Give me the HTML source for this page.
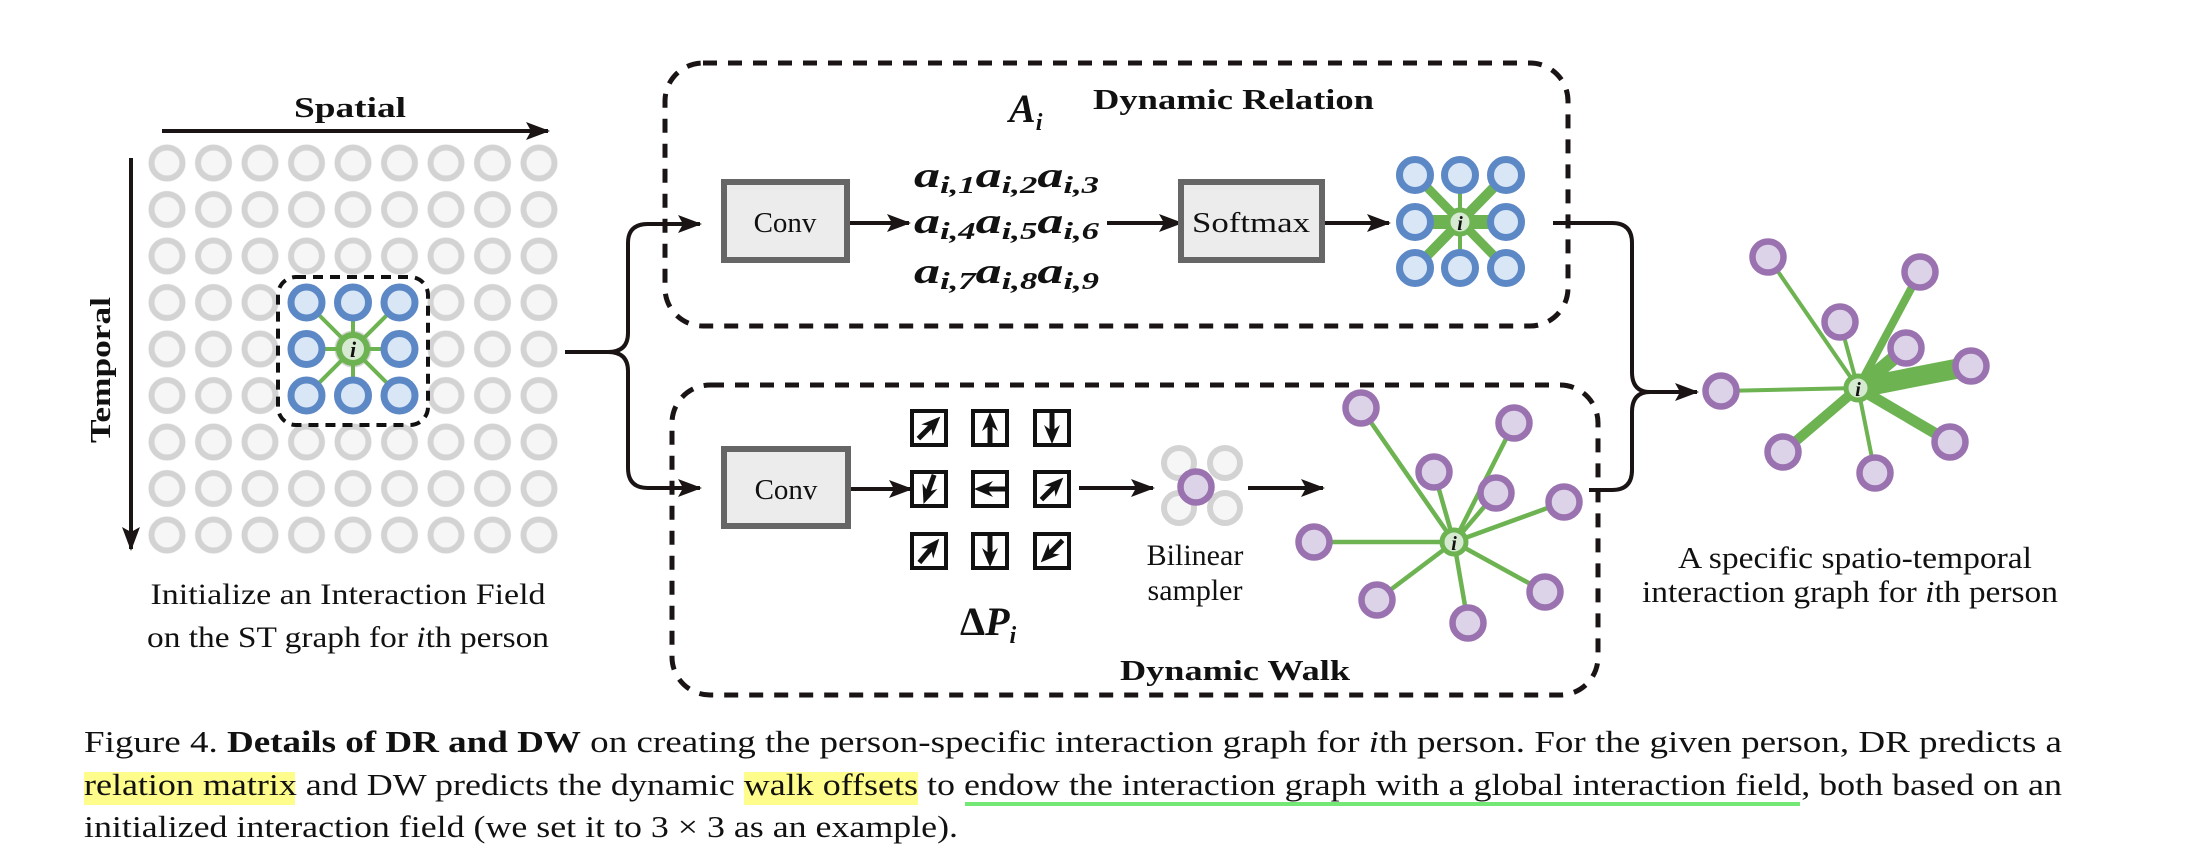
<!DOCTYPE html>
<html><head><meta charset="utf-8"><style>
html,body{margin:0;padding:0;background:#fff;}
svg{display:block;}
text{font-family:"Liberation Serif","DejaVu Serif",serif;fill:#111;}
</style></head><body>
<svg width="2190" height="859" viewBox="0 0 2190 859" xmlns="http://www.w3.org/2000/svg" font-family="Liberation Serif, serif">
<defs>
<marker id="ah" markerWidth="24" markerHeight="18" refX="22" refY="9" orient="auto" markerUnits="userSpaceOnUse">
<path d="M0,0 L24,9 L0,18 L5,9 z" fill="#1a1414"/>
</marker>
<pattern id="gp" patternUnits="userSpaceOnUse" x="143.75" y="139.75" width="46.5" height="46.5">
<circle cx="23.25" cy="23.25" r="15.5" fill="#f6f6f6" stroke="#d3d3d3" stroke-width="6"/>
</pattern>
<g id="pn"><circle r="15.5" fill="#ddd3e8" stroke="#9b72b0" stroke-width="6.5"/></g>
<g id="bn"><circle r="15.5" fill="#d8e6f6" stroke="#5d88c6" stroke-width="7"/></g>
<g id="arr"><line x1="0" y1="15" x2="0" y2="-4" stroke="#111" stroke-width="5"/><path d="M0,-16 L-8,3 L0,-3 L8,3 z" fill="#111"/></g>
</defs>

<!-- Left grid -->
<text x="350" y="117" font-size="29" font-weight="bold" text-anchor="middle" textLength="112" lengthAdjust="spacingAndGlyphs">Spatial</text>
<line x1="162" y1="131" x2="548" y2="131" stroke="#1a1414" stroke-width="4" marker-end="url(#ah)"/>
<text transform="translate(110,370) rotate(-90)" font-size="29" font-weight="bold" text-anchor="middle" textLength="146" lengthAdjust="spacingAndGlyphs">Temporal</text>
<line x1="131" y1="158" x2="131" y2="549" stroke="#1a1414" stroke-width="4" marker-end="url(#ah)"/>
<rect x="143.75" y="139.75" width="418.5" height="418.5" fill="url(#gp)"/>
<g stroke="#6db352" stroke-width="4">
<line x1="306.5" y1="302.5" x2="399.5" y2="395.5"/><line x1="399.5" y1="302.5" x2="306.5" y2="395.5"/>
<line x1="306.5" y1="349" x2="399.5" y2="349"/><line x1="353" y1="302.5" x2="353" y2="395.5"/>
</g>
<use href="#bn" x="306.5" y="302.5"/><use href="#bn" x="353" y="302.5"/><use href="#bn" x="399.5" y="302.5"/>
<use href="#bn" x="306.5" y="349"/><use href="#bn" x="399.5" y="349"/>
<use href="#bn" x="306.5" y="395.5"/><use href="#bn" x="353" y="395.5"/><use href="#bn" x="399.5" y="395.5"/>
<circle cx="353" cy="349" r="14" fill="#d5ead0" stroke="#6db352" stroke-width="6"/>
<text x="353" y="357" font-size="22" font-weight="bold" font-style="italic" text-anchor="middle">i</text>
<rect x="278" y="277" width="150" height="148" rx="18" fill="none" stroke="#111" stroke-width="4" stroke-dasharray="10 7"/>
<text x="348" y="604" font-size="30" text-anchor="middle" textLength="395" lengthAdjust="spacingAndGlyphs">Initialize an Interaction Field</text>
<text x="348" y="647" font-size="30" text-anchor="middle" textLength="402" lengthAdjust="spacingAndGlyphs">on the ST graph for <tspan font-style="italic">i</tspan>th person</text>

<!-- Left brace -->
<g fill="none" stroke="#1a1414" stroke-width="4">
<path d="M565,352 H608 Q628,352 628,333 V243 Q628,224 648,224 H700" marker-end="url(#ah)"/>
<path d="M608,352 Q628,352 628,371 V468 Q628,488 648,488 H700" marker-end="url(#ah)"/>
</g>

<!-- DR box -->
<rect x="665" y="63" width="903" height="263" rx="38" fill="none" stroke="#1a1414" stroke-width="5" stroke-dasharray="14 11"/>
<text x="1009" y="122" font-size="40" font-style="italic" font-weight="bold">A<tspan font-size="24" dy="8">i</tspan></text>
<text x="1093" y="109" font-size="29" font-weight="bold" textLength="281" lengthAdjust="spacingAndGlyphs">Dynamic Relation</text>
<rect x="724" y="182" width="123" height="78" fill="#ececec" stroke="#666" stroke-width="6"/>
<text x="785" y="232" font-size="29" text-anchor="middle">Conv</text>
<line x1="850" y1="223" x2="909" y2="223" stroke="#1a1414" stroke-width="4" marker-end="url(#ah)"/>
<g font-size="36" font-weight="bold" font-style="italic">
<text x="914" y="187" textLength="185" lengthAdjust="spacingAndGlyphs">a<tspan font-size="24" dy="6">i,1</tspan><tspan dy="-6">a</tspan><tspan font-size="24" dy="6">i,2</tspan><tspan dy="-6">a</tspan><tspan font-size="24" dy="6">i,3</tspan></text>
<text x="914" y="233" textLength="185" lengthAdjust="spacingAndGlyphs">a<tspan font-size="24" dy="6">i,4</tspan><tspan dy="-6">a</tspan><tspan font-size="24" dy="6">i,5</tspan><tspan dy="-6">a</tspan><tspan font-size="24" dy="6">i,6</tspan></text>
<text x="914" y="283" textLength="185" lengthAdjust="spacingAndGlyphs">a<tspan font-size="24" dy="6">i,7</tspan><tspan dy="-6">a</tspan><tspan font-size="24" dy="6">i,8</tspan><tspan dy="-6">a</tspan><tspan font-size="24" dy="6">i,9</tspan></text>
</g>
<line x1="1107" y1="223" x2="1181" y2="223" stroke="#1a1414" stroke-width="4" marker-end="url(#ah)"/>
<rect x="1181" y="182" width="141" height="78" fill="#ececec" stroke="#666" stroke-width="6"/>
<text x="1251" y="232" font-size="29" text-anchor="middle" textLength="118" lengthAdjust="spacingAndGlyphs">Softmax</text>
<line x1="1325" y1="223" x2="1389" y2="223" stroke="#1a1414" stroke-width="4" marker-end="url(#ah)"/>
<g stroke="#6db352">
<line x1="1415" y1="175" x2="1506" y2="268" stroke-width="9"/>
<line x1="1506" y1="175" x2="1415" y2="268" stroke-width="10"/>
<line x1="1415" y1="222" x2="1506" y2="222" stroke-width="14"/>
<line x1="1460" y1="175" x2="1460" y2="268" stroke-width="4"/>
</g>
<use href="#bn" x="1415" y="175"/><use href="#bn" x="1460" y="175"/><use href="#bn" x="1506" y="175"/>
<use href="#bn" x="1415" y="222"/><use href="#bn" x="1506" y="222"/>
<use href="#bn" x="1415" y="268"/><use href="#bn" x="1460" y="268"/><use href="#bn" x="1506" y="268"/>
<circle cx="1460" cy="222" r="12" fill="#d5ead0" stroke="#6db352" stroke-width="5"/>
<text x="1460" y="230" font-size="20" font-weight="bold" font-style="italic" text-anchor="middle">i</text>

<!-- DW box -->
<rect x="672" y="385" width="926" height="310" rx="38" fill="none" stroke="#1a1414" stroke-width="5" stroke-dasharray="14 11"/>
<rect x="724" y="449" width="124" height="77" fill="#ececec" stroke="#666" stroke-width="6"/>
<text x="786" y="499" font-size="29" text-anchor="middle">Conv</text>
<line x1="851" y1="489" x2="911" y2="489" stroke="#1a1414" stroke-width="4" marker-end="url(#ah)"/>
<g fill="#fff" stroke="#111" stroke-width="4">
<rect x="912" y="411" width="34" height="34"/><rect x="973" y="411" width="34" height="34"/><rect x="1035" y="411" width="34" height="34"/>
<rect x="912" y="472" width="34" height="34"/><rect x="973" y="472" width="34" height="34"/><rect x="1035" y="472" width="34" height="34"/>
<rect x="912" y="534" width="34" height="34"/><rect x="973" y="534" width="34" height="34"/><rect x="1035" y="534" width="34" height="34"/>
</g>
<use href="#arr" transform="translate(929,428) rotate(45)"/>
<use href="#arr" transform="translate(990,428)"/>
<use href="#arr" transform="translate(1052,428) rotate(180)"/>
<use href="#arr" transform="translate(929,489) rotate(200)"/>
<use href="#arr" transform="translate(990,489) rotate(270)"/>
<use href="#arr" transform="translate(1052,489) rotate(45)"/>
<use href="#arr" transform="translate(929,551) rotate(40)"/>
<use href="#arr" transform="translate(990,551) rotate(180)"/>
<use href="#arr" transform="translate(1052,551) rotate(225)"/>
<text x="960" y="635" font-size="40" font-weight="bold">Δ<tspan font-style="italic">P</tspan><tspan font-size="24" font-style="italic" dy="8">i</tspan></text>
<line x1="1079" y1="488" x2="1153" y2="488" stroke="#1a1414" stroke-width="4" marker-end="url(#ah)"/>
<g fill="#f6f6f6" stroke="#d3d3d3" stroke-width="6">
<circle cx="1179" cy="463" r="15"/><circle cx="1225" cy="463" r="15"/>
<circle cx="1179" cy="508" r="15"/><circle cx="1225" cy="508" r="15"/>
</g>
<use href="#pn" x="1196" y="487"/>
<text x="1195" y="565" font-size="30" text-anchor="middle">Bilinear</text>
<text x="1195" y="600" font-size="30" text-anchor="middle">sampler</text>
<line x1="1248" y1="488" x2="1323" y2="488" stroke="#1a1414" stroke-width="4" marker-end="url(#ah)"/>
<g stroke="#6db352" stroke-width="4.5">
<line x1="1454" y1="542" x2="1361" y2="408"/><line x1="1454" y1="542" x2="1514" y2="423"/>
<line x1="1454" y1="542" x2="1434" y2="472"/><line x1="1454" y1="542" x2="1496" y2="493"/>
<line x1="1454" y1="542" x2="1564" y2="502"/><line x1="1454" y1="542" x2="1314" y2="542"/>
<line x1="1454" y1="542" x2="1377" y2="600"/><line x1="1454" y1="542" x2="1468" y2="623"/>
<line x1="1454" y1="542" x2="1545" y2="592"/>
</g>
<use href="#pn" x="1361" y="408"/><use href="#pn" x="1514" y="423"/><use href="#pn" x="1434" y="472"/>
<use href="#pn" x="1496" y="493"/><use href="#pn" x="1564" y="502"/><use href="#pn" x="1314" y="542"/>
<use href="#pn" x="1377" y="600"/><use href="#pn" x="1468" y="623"/><use href="#pn" x="1545" y="592"/>
<circle cx="1454" cy="542" r="12" fill="#d5ead0" stroke="#6db352" stroke-width="5"/>
<text x="1454" y="550" font-size="20" font-weight="bold" font-style="italic" text-anchor="middle">i</text>
<text x="1120" y="680" font-size="29" font-weight="bold" textLength="230" lengthAdjust="spacingAndGlyphs">Dynamic Walk</text>

<!-- Right brace -->
<g fill="none" stroke="#1a1414" stroke-width="4">
<path d="M1553,223 H1612 Q1632,223 1632,243 V372 Q1632,392 1650,392"/>
<path d="M1589,490 H1612 Q1632,490 1632,470 V412 Q1632,392 1650,392"/>
<line x1="1648" y1="392" x2="1697" y2="392" marker-end="url(#ah)"/>
</g>

<!-- Right graph -->
<g stroke="#6db352">
<line x1="1858" y1="388" x2="1768" y2="257" stroke-width="4"/>
<line x1="1858" y1="388" x2="1920" y2="272" stroke-width="8"/>
<line x1="1858" y1="388" x2="1840" y2="322" stroke-width="4"/>
<line x1="1858" y1="388" x2="1906" y2="348" stroke-width="14"/>
<line x1="1858" y1="388" x2="1971" y2="366" stroke-width="20"/>
<line x1="1858" y1="388" x2="1721" y2="391" stroke-width="4"/>
<line x1="1858" y1="388" x2="1783" y2="452" stroke-width="10"/>
<line x1="1858" y1="388" x2="1875" y2="473" stroke-width="4"/>
<line x1="1858" y1="388" x2="1950" y2="442" stroke-width="11"/>
</g>
<use href="#pn" x="1768" y="257"/><use href="#pn" x="1920" y="272"/><use href="#pn" x="1840" y="322"/>
<use href="#pn" x="1906" y="348"/><use href="#pn" x="1971" y="366"/><use href="#pn" x="1721" y="391"/>
<use href="#pn" x="1783" y="452"/><use href="#pn" x="1875" y="473"/><use href="#pn" x="1950" y="442"/>
<circle cx="1858" cy="388" r="12" fill="#d5ead0" stroke="#6db352" stroke-width="5"/>
<text x="1858" y="396" font-size="20" font-weight="bold" font-style="italic" text-anchor="middle">i</text>
<text x="1678" y="568" font-size="31" textLength="354" lengthAdjust="spacingAndGlyphs">A specific spatio-temporal</text>
<text x="1642" y="602" font-size="31" textLength="416" lengthAdjust="spacingAndGlyphs">interaction graph for <tspan font-style="italic">i</tspan>th person</text>

<!-- Caption -->
<rect x="84" y="772" width="211" height="33" fill="#fefc8a"/>
<rect x="744" y="772" width="174" height="33" fill="#fefc8a"/>
<rect x="965" y="802" width="835" height="4" fill="#74e874"/>
<text x="84" y="752" font-size="31" textLength="1978" lengthAdjust="spacingAndGlyphs">Figure 4. <tspan font-weight="bold">Details of DR and DW</tspan> on creating the person-specific interaction graph for <tspan font-style="italic">i</tspan>th person.  For the given person, DR predicts a</text>
<text x="84" y="795" font-size="31" textLength="1978" lengthAdjust="spacingAndGlyphs">relation matrix and DW predicts the dynamic walk offsets to endow the interaction graph with a global interaction field, both based on an</text>
<text x="84" y="837" font-size="31" textLength="874" lengthAdjust="spacingAndGlyphs">initialized interaction field (we set it to 3 × 3 as an example).</text>
</svg>
</body></html>
